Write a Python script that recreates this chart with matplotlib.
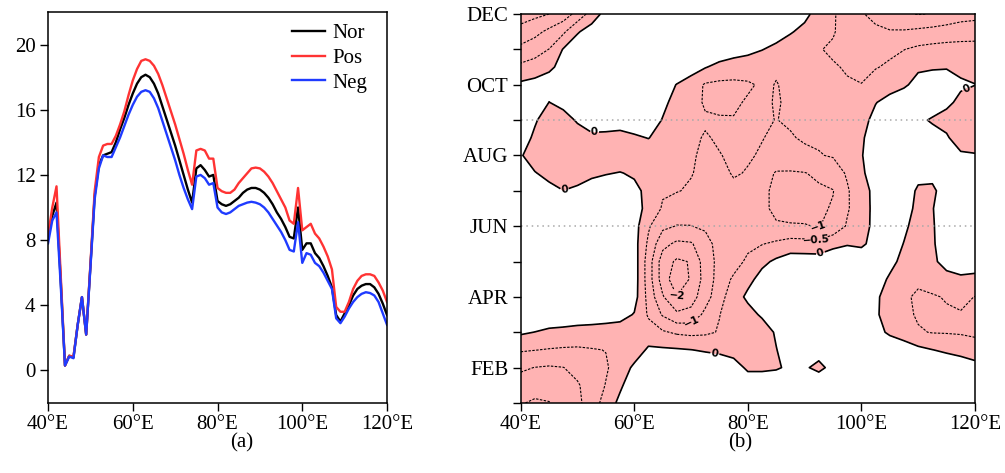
import numpy as np
import matplotlib
matplotlib.use('Agg')
import matplotlib.pyplot as plt

plt.rcParams['font.family'] = ['Liberation Serif', 'DejaVu Serif']
plt.rcParams['lines.dashed_pattern'] = [2.2, 1.3]

# ---- (a) curves, one value per degree 40E..120E
lon_deg = list(range(40, 121))
nor = [8.2, 9.5, 10.3, 5.5, 0.3, 0.9, 0.8, 2.8, 4.5, 2.2,
       6.4, 10.7, 12.6, 13.2, 13.3, 13.4, 14.0, 14.8, 15.5, 16.3,
       17.0, 17.6, 18.0, 18.15, 18.0, 17.6, 17.0, 16.2, 15.4, 14.6,
       13.8, 12.9, 12.0, 11.1, 10.3, 12.4, 12.6, 12.3, 11.9, 12.0,
       10.4, 10.2, 10.1, 10.2, 10.4, 10.6, 10.9, 11.1, 11.2, 11.2,
       11.1, 10.9, 10.6, 10.2, 9.7, 9.3, 8.8, 8.2, 8.1, 10.0,
       7.4, 7.8, 7.8, 7.2, 6.9, 6.4, 5.8, 5.1, 3.4, 3.0,
       3.5, 4.0, 4.6, 5.0, 5.2, 5.3, 5.3, 5.1, 4.7, 4.1, 3.4]
pos = [8.3, 10.0, 11.3, 5.8, 0.3, 0.9, 0.85, 2.8, 4.5, 2.2,
       6.5, 11.0, 13.1, 13.8, 13.9, 13.9, 14.4, 15.1, 15.9, 16.9,
       17.8, 18.5, 19.0, 19.1, 19.0, 18.7, 18.2, 17.5, 16.7, 15.9,
       15.1, 14.2, 13.3, 12.3, 11.4, 13.5, 13.6, 13.5, 13.0, 13.0,
       11.2, 11.0, 10.9, 10.9, 11.1, 11.5, 11.8, 12.1, 12.4, 12.45,
       12.4, 12.2, 11.9, 11.5, 11.0, 10.5, 10.0, 9.2, 9.0, 11.2,
       8.6, 8.8, 9.0, 8.4, 8.1, 7.6, 7.0, 6.2, 3.9, 3.6,
       3.6, 4.2, 5.0, 5.5, 5.8, 5.9, 5.9, 5.8, 5.4, 4.9, 4.2]
neg = [7.8, 9.2, 9.7, 5.2, 0.3, 0.85, 0.75, 2.8, 4.5, 2.2,
       6.3, 10.5, 12.4, 13.2, 13.1, 13.1, 13.7, 14.3, 15.0, 15.7,
       16.3, 16.8, 17.1, 17.2, 17.1, 16.7, 16.1, 15.3, 14.5, 13.7,
       12.9, 12.0, 11.2, 10.5, 9.9, 11.9, 12.0, 11.8, 11.4, 11.5,
       10.0, 9.7, 9.6, 9.7, 9.9, 10.1, 10.2, 10.3, 10.35, 10.3,
       10.2, 10.0, 9.7, 9.3, 8.9, 8.5, 8.0, 7.4, 7.3, 9.1,
       6.6, 7.2, 7.1, 6.6, 6.4, 6.0, 5.5, 5.0, 3.2, 2.9,
       3.3, 3.8, 4.2, 4.5, 4.7, 4.8, 4.75, 4.6, 4.2, 3.5, 2.8]
y_ticks_a = [0, 4, 8, 12, 16, 20]

# ---- (b) field: columns 40E..120E every 2.5 deg, rows DEC (12) down to JAN (1) every half month
field_lon = np.arange(40, 120.1, 2.5)
field_month = np.arange(12, 0.9, -0.5)
field_rows = [
    [-1.75, -1.62, -1.5, -1.28, -0.83, -0.29, 0.18, 0.5, 0.6, 0.6, 0.6, 0.6, 0.6, 0.6, 0.6, 0.6, 0.6,
     0.6, 0.6, 0.5, 0.18, -0.27, -0.45, -0.7, -0.97, -1.1, -1.35, -1.45, -1.52, -1.48, -1.35, -1.25, -1.2],
    [-1.31, -1.15, -0.88, -0.59, -0.05, 0.23, 0.44, 0.6, 0.6, 0.6, 0.6, 0.6, 0.6, 0.6, 0.6, 0.6, 0.6,
     0.45, 0.27, 0.06, -0.19, -0.35, -0.47, -0.65, -0.86, -0.93, -0.96, -0.95, -0.89, -0.83, -0.78, -0.69, -0.65],
    [-0.88, -0.7, -0.49, 0.03, 0.32, 0.55, 0.6, 0.6, 0.6, 0.6, 0.6, 0.6, 0.6, 0.48, 0.35, 0.23, 0.15,
     0.02, -0.15, -0.38, -0.42, -0.48, -0.55, -0.6, -0.74, -0.73, -0.61, -0.51, -0.4, -0.35, -0.32, -0.35, -0.37],
    [-0.39, -0.3, -0.1, 0.16, 0.38, 0.5, 0.6, 0.6, 0.6, 0.6, 0.54, 0.42, 0.24, 0.03, -0.15, -0.24, -0.3,
     -0.4, -0.47, -0.45, -0.45, -0.46, -0.47, -0.53, -0.61, -0.53, -0.42, -0.27, -0.07, -0.04, -0.02, -0.13, -0.18],
    [0.09, 0.18, 0.25, 0.55, 0.6, 0.6, 0.6, 0.6, 0.6, 0.6, 0.25, -0.02, -0.25, -0.55, -0.6, -0.6, -0.55,
     -0.45, -0.51, -0.45, -0.45, -0.45, -0.43, -0.47, -0.49, -0.27, -0.2, -0.07, 0.15, 0.2, 0.15, 0.08, 0.01],
    [0.5, 0.55, -0.01, 0.18, 0.55, 0.6, 0.6, 0.6, 0.6, 0.5, 0.14, -0.21, -0.4, -0.53, -0.58, -0.56, -0.46,
     -0.45, -0.52, -0.46, -0.46, -0.46, -0.45, -0.42, -0.37, -0.02, 0.17, 0.3, 0.45, 0.35, 0.12, -0.13, -0.3],
    [0.45, 0.09, -0.4, -0.25, 0.07, 0.3, 0.29, 0.25, 0.35, 0.32, -0.03, -0.37, -0.45, -0.47, -0.47, -0.48, -0.46,
     -0.47, -0.505, -0.47, -0.46, -0.44, -0.43, -0.42, -0.17, 0.15, 0.4, 0.55, 0.13, -0.07, -0.2, -0.3, -0.35],
    [0.4, -0.15, -0.4, -0.42, -0.3, -0.13, -0.15, -0.18, -0.09, 0.02, -0.24, -0.4, -0.45, -0.52, -0.47, -0.45, -0.45,
     -0.49, -0.55, -0.52, -0.47, -0.45, -0.42, -0.4, -0.08, 0.3, 0.55, 0.6, 0.4, 0.25, 0.07, -0.3, -0.35],
    [0.07, -0.38, -0.45, -0.45, -0.45, -0.45, -0.45, -0.41, -0.45, -0.38, -0.45, -0.47, -0.47, -0.55, -0.51, -0.46, -0.47,
     -0.53, -0.6, -0.65, -0.56, -0.52, -0.47, -0.45, -0.04, 0.38, 0.6, 0.6, 0.55, 0.45, 0.5, 0.09, 0.05],
    [0.25, 0.04, -0.22, -0.42, -0.3, -0.13, -0.04, 0.03, -0.09, -0.38, -0.45, -0.45, -0.48, -0.6, -0.6, -0.47, -0.52,
     -0.75, -1.05, -1.05, -1.02, -0.9, -0.72, -0.45, -0.1, 0.3, 0.6, 0.4, 0.2, 0.15, 0.5, 0.6, 0.5],
    [0.6, 0.48, 0.22, 0.01, 0.13, 0.3, 0.4, 0.47, 0.17, -0.18, -0.45, -0.48, -0.55, -0.62, -0.65, -0.58, -0.65,
     -0.9, -1.1, -1.12, -1.1, -1.08, -1.02, -0.55, -0.2, 0.14, 0.55, 0.35, -0.1, -0.1, 0.25, 0.55, 0.6],
    [0.6, 0.6, 0.6, 0.6, 0.6, 0.6, 0.6, 0.55, 0.2, -0.15, -0.55, -0.71, -0.81, -0.75, -0.7, -0.68, -0.72,
     -0.9, -1.1, -1.13, -1.12, -1.1, -0.95, -0.55, -0.22, 0.14, 0.55, 0.24, -0.15, -0.03, 0.35, 0.6, 0.6],
    [0.6, 0.6, 0.6, 0.6, 0.6, 0.6, 0.6, 0.55, 0.2, -0.44, -0.89, -1.02, -1.01, -0.92, -0.78, -0.75, -0.78,
     -0.85, -0.95, -0.97, -0.98, -1.02, -0.85, -0.45, -0.2, 0.14, 0.5, 0.11, -0.24, -0.06, 0.35, 0.6, 0.6],
    [0.6, 0.6, 0.6, 0.6, 0.6, 0.6, 0.6, 0.55, 0.2, -0.6, -1.35, -1.6, -1.55, -1.2, -0.8, -0.7, -0.62,
     -0.52, -0.41, -0.29, -0.31, -0.34, -0.14, -0.04, -0.1, 0.2, 0.3, -0.02, -0.35, -0.07, 0.3, 0.6, 0.6],
    [0.6, 0.6, 0.6, 0.6, 0.6, 0.6, 0.6, 0.55, 0.25, -0.75, -1.75, -2.08, -1.97, -1.25, -0.86, -0.71, -0.4,
     -0.12, 0.09, 0.25, 0.25, 0.25, 0.35, 0.4, 0.38, 0.45, 0.17, -0.17, -0.38, -0.1, 0.18, 0.28, 0.28],
    [0.6, 0.6, 0.6, 0.6, 0.6, 0.6, 0.6, 0.55, 0.25, -0.75, -1.75, -2.3, -1.95, -1.3, -0.8, -0.42, -0.15,
     0.18, 0.45, 0.6, 0.6, 0.6, 0.6, 0.6, 0.6, 0.27, -0.08, -0.35, -0.44, -0.31, -0.17, -0.09, -0.14],
    [0.6, 0.6, 0.6, 0.6, 0.6, 0.6, 0.6, 0.5, 0.2, -0.67, -1.45, -1.98, -1.7, -1.23, -0.66, -0.26, 0.11,
     0.45, 0.6, 0.6, 0.6, 0.6, 0.6, 0.6, 0.6, 0.1, -0.25, -0.45, -0.55, -0.54, -0.47, -0.4, -0.51],
    [0.5, 0.44, 0.34, 0.31, 0.27, 0.25, 0.22, 0.18, -0.03, -0.56, -1.05, -1.4, -1.35, -0.87, -0.51, -0.32, -0.2,
     0.08, 0.45, 0.6, 0.6, 0.6, 0.6, 0.6, 0.6, 0.08, -0.25, -0.39, -0.55, -0.6, -0.55, -0.53, -0.58],
    [0.07, -0.01, -0.1, -0.13, -0.17, -0.19, -0.22, -0.26, -0.4, -0.3, -0.44, -0.57, -0.62, -0.58, -0.47, -0.45, -0.42,
     -0.3, 0.07, 0.35, 0.5, 0.55, 0.6, 0.6, 0.6, 0.18, -0.09, -0.22, -0.46, -0.52, -0.53, -0.55, -0.58],
    [-0.45, -0.49, -0.53, -0.56, -0.57, -0.53, -0.49, -0.38, -0.28, 0.08, 0.07, 0.05, 0.01, -0.05, -0.1, -0.22, -0.45,
     -0.35, -0.02, 0.3, 0.22, 0.16, 0.35, 0.6, 0.6, 0.5, 0.4, 0.24, 0.12, 0.01, -0.08, -0.16, -0.3],
    [-0.93, -1.01, -1.05, -1.01, -0.85, -0.74, -0.55, -0.29, 0.1, 0.5, 0.48, 0.48, 0.48, 0.39, 0.33, 0.25, -0.1,
     -0.1, -0.06, 0.1, 0.05, -0.1, 0.12, 0.5, 0.6, 0.6, 0.6, 0.6, 0.55, 0.45, 0.36, 0.28, 0.2],
    [-1.2, -1.2, -1.28, -1.2, -1.05, -0.77, -0.48, -0.08, 0.3, 0.6, 0.6, 0.6, 0.6, 0.6, 0.6, 0.6, 0.35,
     0.35, 0.4, 0.4, 0.35, 0.3, 0.5, 0.6, 0.6, 0.6, 0.6, 0.6, 0.6, 0.6, 0.6, 0.6, 0.6],
    [-1.45, -1.6, -1.52, -1.3, -1.1, -0.78, -0.28, 0.12, 0.45, 0.6, 0.6, 0.6, 0.6, 0.6, 0.6, 0.6, 0.6,
     0.6, 0.6, 0.6, 0.6, 0.6, 0.6, 0.6, 0.6, 0.6, 0.6, 0.6, 0.6, 0.6, 0.6, 0.6, 0.6],
]
month_ticks = [2, 4, 6, 8, 10, 12]
month_labels = ['FEB', 'APR', 'JUN', 'AUG', 'OCT', 'DEC']
month_minor = [1, 3, 5, 7, 9, 11]
lon_ticks = [40, 60, 80, 100, 120]
lon_labels = ['40°E', '60°E', '80°E', '100°E', '120°E']
neg_levels = [-2, -1.5, -1, -0.5]

fig = plt.figure(figsize=(10.05, 4.73), dpi=100)

# ---------- panel (a)
ax1 = fig.add_axes([0.0478, 0.148, 0.3373, 0.8266])
ax1.plot(lon_deg, nor, color='black', lw=1.7, label='Nor')
ax1.plot(lon_deg, pos, color='#ff3333', lw=1.7, label='Pos')
ax1.plot(lon_deg, neg, color='#1f3bff', lw=1.7, label='Neg')
ax1.set_xlim(40, 120)
ax1.set_ylim(-2, 22)
ax1.set_xticks(lon_ticks)
ax1.set_xticklabels(lon_labels)
ax1.set_yticks(y_ticks_a)
ax1.tick_params(direction='out', length=6, width=1, labelsize=15, pad=3)
for s in ax1.spines.values():
    s.set_linewidth(1.1)
ax1.legend(loc='upper right', bbox_to_anchor=(0.975, 1.0), frameon=False, fontsize=15,
           handlelength=1.6, handletextpad=0.35, labelspacing=0.25, borderaxespad=0.15)

# ---------- panel (b)
ax2 = fig.add_axes([0.5181, 0.148, 0.452, 0.8224])
Z = np.array(field_rows)[::-1]
M = field_month[::-1]
ax2.contourf(field_lon, M, Z, levels=[-10, 0], colors=['#ffb3b3'])
cs_neg = ax2.contour(field_lon, M, Z, levels=neg_levels, colors='black',
                     linewidths=0.8, linestyles='dashed')
cs0 = ax2.contour(field_lon, M, Z, levels=[0], colors='black', linewidths=1.2,
                  linestyles='solid')
lab0 = ax2.clabel(cs0, fmt={0: '0'}, fontsize=7.5, inline=True, inline_spacing=2,
                  manual=[(53, 8.63), (47.8, 6.98), (74.2, 2.4), (92.7, 5.28), (118.3, 9.95)])
labn = ax2.clabel(cs_neg, fmt=lambda v: ('%g' % v).replace('-', '\u2212'), fontsize=7.5,
                  inline=True, inline_spacing=2,
                  manual=[(92, 5.61), (92.4, 5.95), (70.4, 3.25), (67.5, 4.0)])
for t in list(lab0) + list(labn):
    t.set_fontfamily('DejaVu Sans')
    t.set_fontweight('bold')

for m in [6, 9]:
    ax2.axhline(m, color='#a8a8a8', lw=1.1, ls=(0, (1, 2.5)))

ax2.set_xlim(40, 120)
ax2.set_ylim(1, 12)
ax2.set_xticks(lon_ticks)
ax2.set_xticklabels(lon_labels)
ax2.set_yticks(month_ticks)
ax2.set_yticklabels(month_labels)
ax2.set_yticks(month_minor, minor=True)
ax2.tick_params(which='both', direction='out', length=6, width=1, labelsize=15, pad=3)
for s in ax2.spines.values():
    s.set_linewidth(1.1)

fig.text(242 / 1005, 0.063, '(a)', ha='center', va='center', fontsize=15)
fig.text(740 / 1005, 0.063, '(b)', ha='center', va='center', fontsize=15)

fig.savefig('out.png', dpi=100)
